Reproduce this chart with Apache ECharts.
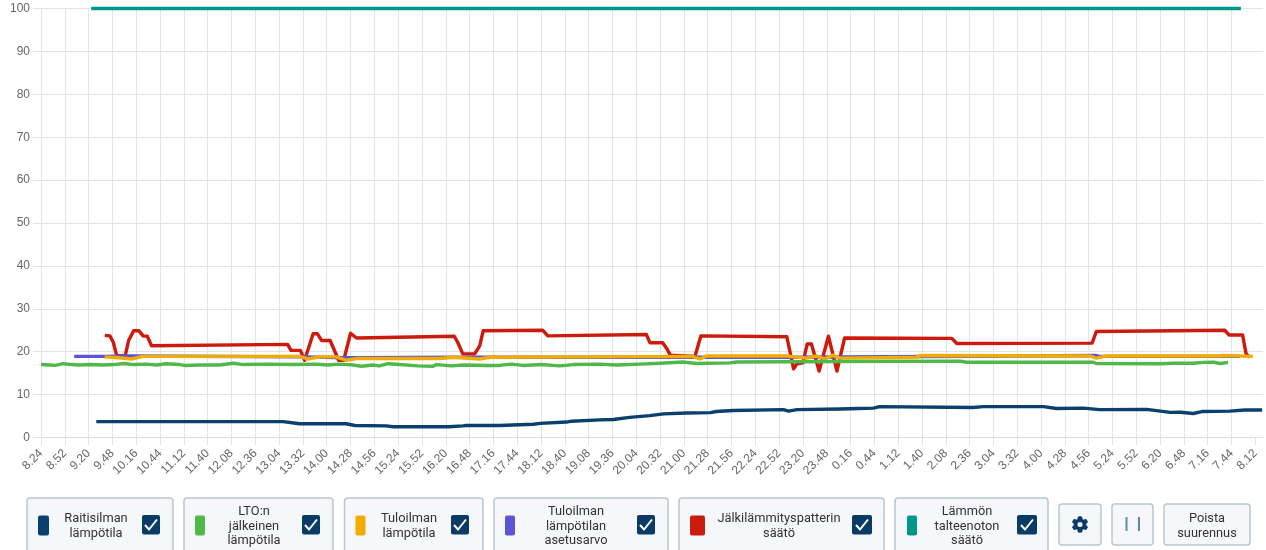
<!DOCTYPE html>
<html lang="fi">
<head>
<meta charset="utf-8">
<title>Lämpötilat</title>
<script src="https://cdn.jsdelivr.net/npm/echarts@6/dist/echarts.min.js"></script>
<style>
html,body{margin:0;padding:0;background:#fff;overflow:hidden}
#chart{width:1266px;height:550px}
</style>
</head>
<body>
<div id="chart"></div>
<script>
const tickLabels = ['8.24','8.52','9.20','9.48','10.16','10.44','11.12','11.40','12.08','12.36','13.04','13.32','14.00','14.28','14.56','15.24','15.52','16.20','16.48','17.16','17.44','18.12','18.40','19.08','19.36','20.04','20.32','21.00','21.28','21.56','22.24','22.52','23.20','23.48','0.16','0.44','1.12','1.40','2.08','2.36','3.04','3.32','4.00','4.28','4.56','5.24','5.52','6.20','6.48','7.16','7.44','8.12'];
const tickStepMinutes = 28;
const axisEndMinutes = 1437;

const raitisilma = [[65,3.7],[285,3.7],[304,3.2],[359,3.2],[369,2.8],[406,2.7],[414,2.5],[480,2.5],[496,2.7],[500,2.8],[539,2.8],[579,3.1],[587,3.3],[618,3.6],[624,3.8],[657,4.1],[673,4.2],[692,4.7],[716,5.1],[732,5.5],[759,5.7],[787,5.8],[794,6.05],[814,6.3],[873,6.5],[879,6.15],[889,6.5],[940,6.65],[961,6.75],[979,6.85],[986,7.2],[1096,7.0],[1108,7.2],[1179,7.2],[1194,6.75],[1226,6.85],[1245,6.5],[1300,6.55],[1328,5.85],[1340,5.9],[1355,5.6],[1365,6.05],[1398,6.15],[1416,6.4],[1436,6.4]];

const ltoJalkeinen = [[0,17],[10,16.9],[17,16.8],[26,17.2],[36,17],[45,16.9],[57,17],[73,16.9],[85,17],[98,17.25],[108,17],[124,17.1],[136,16.9],[147,17.2],[163,17],[169,16.8],[187,16.9],[210,16.9],[226,17.3],[238,17],[265,17.1],[296,17],[324,17.1],[337,16.9],[351,17.1],[367,16.9],[377,16.6],[390,16.9],[398,16.7],[408,17.2],[422,17],[443,16.7],[461,16.6],[465,17],[483,16.7],[496,16.9],[524,16.8],[539,16.8],[553,17.1],[567,16.8],[588,17],[610,16.7],[626,17],[657,17.1],[677,16.9],[704,17.1],[728,17.3],[755,17.6],[771,17.25],[810,17.4],[818,17.6],[940,17.7],[1081,17.8],[1088,17.55],[1237,17.55],[1241,17.25],[1316,17.2],[1332,17.3],[1355,17.3],[1367,17.5],[1379,17.55],[1387,17.25],[1396,17.5]];

const tuloilma = [[75,18.8],[92,18.6],[106,18.3],[120,18.9],[304,18.9],[314,18.3],[328,18.8],[347,18.8],[359,18],[371,18.4],[469,18.4],[484,18.7],[516,18.3],[528,18.7],[657,18.8],[766,18.9],[775,18.3],[783,19],[877,19],[900,18.5],[912,19],[922,18.3],[931,19.2],[939,18.5],[1030,18.7],[1034,19.1],[1234,19],[1241,18.5],[1253,19],[1386,19],[1390,19.1],[1425,18.9]];

const asetusarvo = [[39,18.9],[75,18.9],[105,19],[310,18.8],[357,18.6],[495,18.7],[892,18.7],[1241,19.1],[1245,18.9],[1410,18.9]];

const jalkilammitys = [[75,23.8],[81,23.7],[85,22.2],[89,19.1],[99,19],[103,22.6],[109,24.9],[115,24.9],[120,23.7],[125,23.6],[130,21.4],[290,21.7],[294,20.3],[305,20.3],[310,18],[320,24.2],[325,24.2],[330,22.6],[340,22.6],[350,18],[356,18],[364,24.3],[371,23.2],[486,23.6],[490,22.2],[496,19.5],[510,19.5],[516,21.4],[520,24.9],[590,25],[596,23.7],[712,24],[716,22.1],[731,22.1],[736,20.7],[740,19.2],[769,18.9],[771,19],[776,23.7],[877,23.5],[885,16],[889,17.2],[896,17.4],[901,21.8],[906,21.8],[915,15.5],[926,23.6],[936,15.5],[945,23.2],[1071,23.1],[1077,21.9],[1236,22],[1241,24.7],[1392,25],[1397,23.9],[1413,23.9],[1417,19.6],[1421,18.7]];

const lammonTalteenotto = [[59,100],[1411,100]];

const seriesNames = ['Raitisilman\nlämpötila','LTO:n\njälkeinen\nlämpötila','Tuloilman\nlämpötila','Tuloilman\nlämpötilan\nasetusarvo','Jälkilämmityspatterin\nsäätö','Lämmön\ntalteenoton\nsäätö'];
const seriesColors = ['#0a3f6e','#4fb848','#f2ac00','#5b55d6','#cc1b0c','#00968a'];
const seriesData = [raitisilma, ltoJalkeinen, tuloilma, asetusarvo, jalkilammitys, lammonTalteenotto];

// legend tiles: left, right, swatch left, swatch width, text centre, checkbox left, checkbox width
const legendBoxes = [
  [27,173,38,11,96,142,18],
  [184,333,195,10,254,302,18],
  [344.5,483,355.5,10,409,451,18],
  [494,668,505,10,576,637,18],
  [679,884,690,15,779,852,20],
  [895,1048,907,10,967,1017,20]
];

const ink = '#0a3a66', tileFill = '#f6f7fa', tileEdge = '#b9c8d0', textInk = '#333', uiFont = '12.8px Roboto';
const gridColor = '#e4e4e4';
// outline of the settings icon, in icon-local units around its centre
const gearOutline = [[-2,-9],[2,-9],[2.6,-6.2],[4.4,-5.2],[7.1,-6.1],[9,-2.8],[6.9,-1],[6.9,1],[9,2.8],[7.1,6.1],[4.4,5.2],[2.6,6.2],[2,9],[-2,9],[-2.6,6.2],[-4.4,5.2],[-7.1,6.1],[-9,2.8],[-6.9,1],[-6.9,-1],[-9,-2.8],[-7.1,-6.1],[-4.4,-5.2],[-2.6,-6.2]];

function tile(l, r, t, b) {
  return {type:'rect', shape:{x:l, y:t, width:r-l, height:b-t, r:3}, style:{fill:tileFill, stroke:tileEdge, lineWidth:1.5}};
}
function label(text, x) {
  return {type:'text', style:{text, x, y:526.5, align:'center', verticalAlign:'middle', font:uiFont, fill:textInk, lineHeight:14.8}};
}

const graphics = [];
legendBoxes.forEach(function (b, i) {
  graphics.push(tile(b[0], b[1], 498, 570));
  graphics.push({type:'rect', shape:{x:b[2], y:515.5, width:b[3], height:20, r:2}, style:{fill:seriesColors[i]}});
  graphics.push(label(seriesNames[i], b[4]));
  graphics.push({type:'rect', shape:{x:b[5], y:515, width:b[6], height:19.5, r:2}, style:{fill:ink}});
  const cx = b[5] + b[6]/2;
  graphics.push({type:'polyline', shape:{points:[[cx-6,525],[cx-2,529.5],[cx+6,519.5]]}, style:{fill:null, stroke:'#fff', lineWidth:2}});
});
graphics.push(tile(1059,1101,504,545));
graphics.push({type:'polygon', shape:{points:gearOutline.map(function (p) { return [1080 + p[0]*0.85, 524.5 + p[1]*0.85]; })}, style:{fill:ink, stroke:ink, lineWidth:0.8}});
graphics.push({type:'circle', shape:{cx:1080, cy:524.5, r:2.5}, style:{fill:tileFill}});
graphics.push(tile(1112,1153,504,545));
graphics.push({type:'line', shape:{x1:1126.5,y1:517,x2:1126.5,y2:531}, style:{stroke:'#5f8aa6', lineWidth:2}});
graphics.push({type:'line', shape:{x1:1139,y1:517,x2:1139,y2:531}, style:{stroke:'#5f8aa6', lineWidth:2}});
graphics.push(tile(1164,1250,504,545));
graphics.push(label('Poista\nsuurennus', 1207));

const tickValues = tickLabels.map(function (_, i) { return i * tickStepMinutes; });

const option = {
  animation: false,
  backgroundColor: '#fff',
  grid: {left: 41, right: 3, top: 8.5, bottom: 112.5, containLabel: false},
  xAxis: {
    type: 'value', min: 0, max: axisEndMinutes, interval: tickStepMinutes,
    axisLine: {show: true, onZero: false, lineStyle: {color: '#dcdcdc', width: 1}},
    axisTick: {show: true, length: 8, customValues: tickValues, lineStyle: {color: gridColor}},
    axisLabel: {
      show: true, rotate: 45, margin: 14, color: '#666', fontFamily: 'Liberation Sans', fontSize: 12,
      customValues: tickValues, hideOverlap: false,
      formatter: function (v) { return tickLabels[Math.round(v / tickStepMinutes)] || ''; }
    },
    splitLine: {show: true, showMaxLine: false, lineStyle: {color: gridColor, width: 1}}
  },
  yAxis: {
    type: 'value', min: 0, max: 100, interval: 10,
    axisLine: {show: false},
    axisTick: {show: true, length: 8, lineStyle: {color: gridColor}},
    axisLabel: {margin: 11, color: '#666', fontFamily: 'Liberation Sans', fontSize: 12},
    splitLine: {show: true, lineStyle: {color: gridColor, width: 1}}
  },
  // first legend entry is drawn on top, so the series go in reverse order
  series: seriesData.map(function (data, i) {
    return {
      name: seriesNames[i].replace(/\n/g, ' '), type: 'line', data: data, symbol: 'none', clip: false,
      z: 10 - i,
      lineStyle: {color: seriesColors[i], width: 3.4, join: 'round'},
      itemStyle: {color: seriesColors[i]}
    };
  }),
  graphic: {elements: graphics}
};

const chart = echarts.init(document.getElementById('chart'), null, {renderer: 'canvas'});
chart.setOption(option);
</script>
</body>
</html>
